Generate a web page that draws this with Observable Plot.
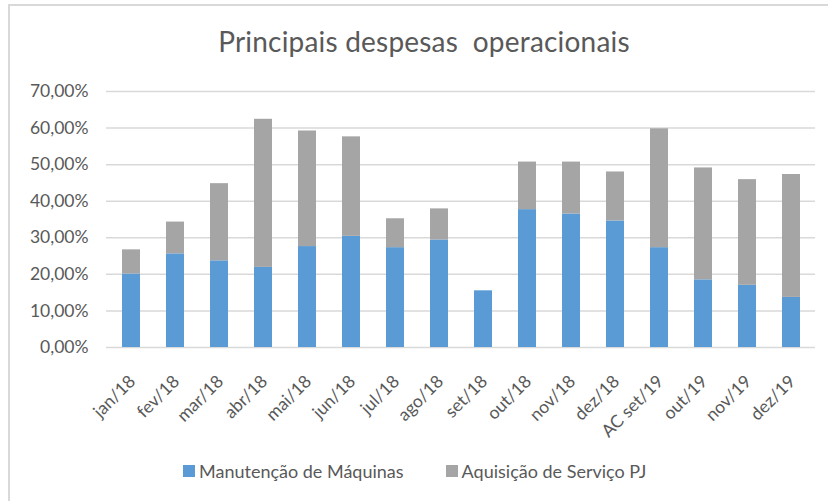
<!DOCTYPE html>
<html>
<head>
<meta charset="utf-8">
<script src="https://cdn.jsdelivr.net/npm/d3@7"></script>
<script src="https://cdn.jsdelivr.net/npm/@observablehq/plot@0.6"></script>
<style>
  html, body { margin: 0; padding: 0; background: #fff; }
  #wrap { position: relative; width: 828px; height: 501px; overflow: hidden; font-family: Lato, "Open Sans", sans-serif; }
  #frame { position: absolute; left: 8px; top: 4px; width: 830px; height: 510px; border-top: 2px solid #d9d9d9; border-left: 2px solid #d9d9d9; box-sizing: border-box; }
  #title { position: absolute; top: 24px; left: 8px; width: 832px; text-align: center; font-size: 28px; color: #595959; letter-spacing: 0.2px; }
  #chart { position: absolute; left: 0; top: 70px; }
  #legend { position: absolute; top: 460px; left: 183px; font-size: 18px; color: #595959; display: flex; align-items: center; }
  .sw { display: inline-block; width: 12px; height: 12px; margin-right: 4px; }
  .item { display: flex; align-items: center; margin-right: 42px; }
</style>
</head>
<body>
<div id="wrap">
  <div id="frame"></div>
  <div id="title">Principais despesas&nbsp; operacionais</div>
  <div id="chart"></div>
  <div id="legend"></div>
</div>
<script>
const months = ["jan/18","fev/18","mar/18","abr/18","mai/18","jun/18","jul/18","ago/18","set/18","out/18","nov/18","dez/18","AC set/19","out/19","nov/19","dez/19"];
const seriesNames = ["Manutenção de Máquinas", "Aquisição de Serviço PJ"];
const seriesColors = ["#5b9bd5", "#a5a5a5"];
const manutencao = [20.1, 25.6, 23.7, 21.9, 27.6, 30.4, 27.3, 29.4, 15.5, 37.7, 36.5, 34.6, 27.3, 18.5, 17.0, 13.7];
const aquisicao  = [6.6, 8.7, 21.1, 40.5, 31.6, 27.2, 7.9, 8.5, 0, 13.0, 14.2, 13.4, 32.5, 30.6, 28.9, 33.6];
const yTicks = [0, 10, 20, 30, 40, 50, 60, 70];

const data = [];
months.forEach((m, i) => {
  data.push({month: m, series: seriesNames[0], value: manutencao[i]});
  data.push({month: m, series: seriesNames[1], value: aquisicao[i]});
});

const fmt = d => d.toFixed(2).replace(".", ",") + "%";

const chart = Plot.plot({
  width: 828,
  height: 380,
  marginTop: 21,
  marginBottom: 103,
  marginLeft: 106,
  marginRight: 13,
  style: {fontFamily: "Lato, 'Open Sans', sans-serif", fontSize: "17px", color: "#595959", background: "transparent", overflow: "visible"},
  x: {domain: months, paddingInner: 0.6, paddingOuter: 0.3, label: null},
  y: {domain: [0, 70], label: null},
  color: {domain: seriesNames, range: seriesColors},
  marks: [
    Plot.ruleY(yTicks, {stroke: "#d9d9d9", strokeWidth: 1.5}),
    Plot.barY(data, {x: "month", y: "value", fill: "series", order: seriesNames}),
    Plot.axisY(yTicks, {tickSize: 0, tickPadding: 18, tickFormat: fmt, fontSize: 17.5, fill: "#595959", label: null}),
    Plot.axisX({tickSize: 0, tickRotate: -45, tickPadding: 22, dx: 1, dy: 9, fontSize: 17.5, fill: "#595959", label: null})
  ]
});
document.getElementById("chart").appendChild(chart);

const legend = document.getElementById("legend");
seriesNames.forEach((s, i) => {
  const it = document.createElement("span");
  it.className = "item";
  const sw = document.createElement("span");
  sw.className = "sw";
  sw.style.background = seriesColors[i];
  it.appendChild(sw);
  it.appendChild(document.createTextNode(s));
  legend.appendChild(it);
});
</script>
</body>
</html>
